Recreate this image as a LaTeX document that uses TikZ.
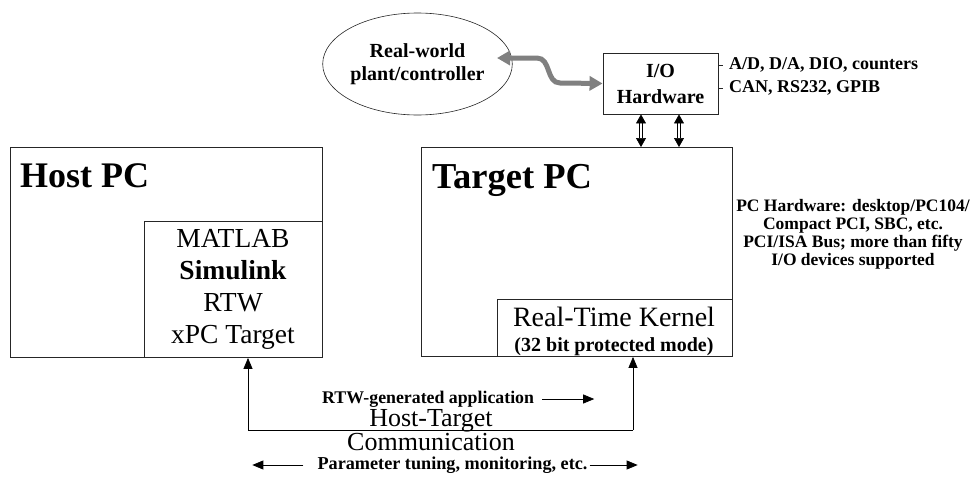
\documentclass[tikz,border=0pt]{standalone}
\usepackage{fontspec}
\setmainfont{Liberation Serif}
\usetikzlibrary{calc,arrows.meta,shapes.geometric}
\newcommand{\pxunit}{1pt}
\newcommand{\txtsize}[2]{\fontsize{#1}{#2}\selectfont}
\tikzset{
	box/.style={draw=black!85, line width=0.9pt, inner sep=0pt},
	lbl/.style={inner sep=0pt, align=center},
	tip/.style={-{Triangle[length=11pt,width=9pt]}},
	iolink/.style={{Triangle[length=9pt,width=10pt]}-{Triangle[length=9pt,width=10pt]},
		double, double distance=2pt, line width=0.7pt},
	graylink/.style={black!50, line width=5pt,
		{Triangle[length=13pt,width=14pt]}-{Triangle[length=13pt,width=14pt]}}
}

\begin{document}
\begin{tikzpicture}[x=\pxunit,y=-\pxunit]
	\useasboundingbox (0,0) rectangle (978,477);

	\node[box, anchor=north west, minimum width=312pt, minimum height=210pt] (host) at (10,147) {};
	\node[box, anchor=south east, minimum width=178pt, minimum height=136pt] (hostsw) at (host.south east) {};
	\node[box, anchor=north west, minimum width=311pt, minimum height=209pt] (target) at (421,147) {};
	\node[box, anchor=south east, minimum width=235pt, minimum height=57pt] (kernel) at (target.south east) {};
	\node[box, align=center, minimum width=115pt, minimum height=61pt, font=\txtsize{20}{26}\bfseries] (io) at (660.5,83.5) {I/O\\Hardware};
	\node[ellipse, draw=black!85, line width=0.6pt, minimum width=155pt, minimum height=102pt, lbl,
		font=\txtsize{20}{23}\bfseries] (plant) at (417.5,64) {Real-world\\plant/controller};

	\node[lbl, anchor=base west, font=\txtsize{36}{36}\bfseries] (hostlbl) at (20,187) {Host PC};
	\node[lbl, anchor=base west, font=\txtsize{36.5}{36.5}\bfseries] (targetlbl) at (432,188) {Target PC};
	\node[lbl, font=\txtsize{27.5}{32}] (swlist) at (233,289) {MATLAB\\\textbf{Simulink}\\RTW\\xPC Target};
	\node[lbl, anchor=base, font=\txtsize{28}{28}] (kernellbl) at (614,326) {Real-Time Kernel};
	\node[lbl, anchor=base, font=\txtsize{20}{20}\bfseries] (modelbl) at (614,351) {(32 bit protected mode)};

	\node[lbl, anchor=west, inner xsep=6pt, font=\txtsize{18}{18}\bfseries] (iolist1) at (723,65) {A/D, D/A, DIO, counters};
	\node[lbl, anchor=west, inner xsep=6pt, font=\txtsize{18}{18}\bfseries] (iolist2) at (723,88) {CAN, RS232, GPIB};
	\draw[black!85, line width=0.6pt] (io.east |- iolist1.west) -- (iolist1.west);
	\draw[black!85, line width=0.6pt] (io.east |- iolist2.west) -- (iolist2.west);
	\node[lbl, font=\txtsize{17.5}{18}\bfseries] (pchw) at (853,234)
		{PC Hardware: desktop/PC104/\\Compact PCI, SBC, etc.\\PCI/ISA Bus; more than fifty\\I/O devices supported};

	% plant <-> I/O <-> target
	\coordinate (plantport) at (497,58);
	\draw[graylink] (plantport) -- ++(40,0) .. controls +(14,0) and +(-14,0) .. ++(23,25) -- (io.west);
	\draw[iolink] ([xshift=-19.5pt]io.south) -- ([xshift=-19.5pt]io.south |- target.north);
	\draw[iolink] ([xshift=18.5pt]io.south) -- ([xshift=18.5pt]io.south |- target.north);

	% host <-> target
	\coordinate (hostport) at (248,430);
	\coordinate (targetport) at (633,430);
	\draw[tip, line width=0.7pt] (hostport) -- (hostport |- hostsw.south);
	\draw[line width=0.7pt] (hostport) -- (targetport);
	\draw[tip, line width=0.7pt] (targetport) -- (targetport |- kernel.south);

	\node[lbl, anchor=west, font=\txtsize{17.8}{17.8}\bfseries] (rtwlbl) at (322,399) {RTW-generated application};
	\draw[tip, line width=0.7pt] ([xshift=8pt]rtwlbl.east) -- ++(52,0);
	\node[lbl, font=\txtsize{26}{24}] (commlbl) at (431,430) {Host-Target\\Communication};
	\node[lbl, font=\txtsize{18.2}{18.2}\bfseries] (paramlbl) at (452.5,465) {Parameter tuning, monitoring, etc.};
	\draw[tip, line width=0.7pt] ([xshift=-14pt]paramlbl.west) -- ++(-51,0);
	\draw[tip, line width=0.7pt] ([xshift=2pt]paramlbl.east) -- ++(48,0);
\end{tikzpicture}
\end{document}
